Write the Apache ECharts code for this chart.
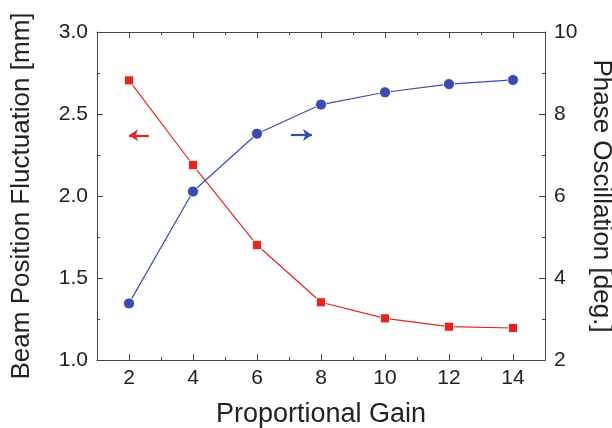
<!DOCTYPE html>
<html>
<head>
<meta charset="utf-8">
<script src="https://cdn.jsdelivr.net/npm/echarts@6/dist/echarts.min.js"></script>
<style>html,body{margin:0;padding:0;background:#fff}#c{width:612px;height:428px}</style>
</head>
<body>
<div id="c"></div>
<script>
const gains = [2, 4, 6, 8, 10, 12, 14];
const beamFluct = [2.705, 2.189, 1.701, 1.352, 1.254, 1.203, 1.195];
const phaseOsc = [3.38, 6.11, 7.52, 8.23, 8.53, 8.73, 8.83];
const xMajor = [2, 4, 6, 8, 10, 12, 14];
const xMinor = [3, 5, 7, 9, 11, 13];

const FONT = 'Liberation Sans, Arial, sans-serif';
const AX = '#444';
const RED = '#e3261f';
const BLUE = '#3c4cae';

function xAx(pos, vals, len, labels, line) {
  return {
    type: 'value', min: 1, max: 15, position: pos,
    axisLine: {show: line, onZero: false, lineStyle: {color: AX, width: 1}},
    axisTick: {show: true, inside: true, length: len, customValues: vals, lineStyle: {color: AX}},
    axisLabel: labels ? {show: true, customValues: vals, fontSize: 21, color: '#222', fontFamily: FONT, margin: 8} : {show: false},
    splitLine: {show: false},
    name: labels ? 'Proportional Gain' : '',
    nameLocation: 'middle', nameGap: 41,
    nameTextStyle: {fontSize: 27, color: '#222', fontFamily: FONT}
  };
}

const chart = echarts.init(document.getElementById('c'), null, {renderer: 'canvas'});
chart.setOption({
  animation: false,
  grid: {left: 97, right: 67, top: 32, bottom: 68, containLabel: false, outerBoundsMode: 'none'},
  xAxis: [
    xAx('bottom', xMajor, 6, true, true),
    xAx('bottom', xMinor, 3, false, false),
    xAx('top', xMajor, 6, false, true),
    xAx('top', xMinor, 3, false, false)
  ],
  yAxis: [
    {
      type: 'value', min: 1, max: 3, interval: 0.5, position: 'left',
      axisLine: {show: true, lineStyle: {color: AX}},
      axisTick: {show: true, inside: true, length: 6, lineStyle: {color: AX}},
      minorTick: {show: true, splitNumber: 2, length: 3, lineStyle: {color: AX}},
      axisLabel: {fontSize: 21, color: '#222', fontFamily: FONT, margin: 9, formatter: v => v.toFixed(1)},
      splitLine: {show: false},
      name: 'Beam Position Fluctuation [mm]', nameLocation: 'middle', nameGap: 62, nameRotate: 90,
      nameTextStyle: {fontSize: 26, color: '#222', fontFamily: FONT}
    },
    {
      type: 'value', min: 2, max: 10, interval: 2, position: 'right',
      axisLine: {show: true, lineStyle: {color: AX}},
      axisTick: {show: true, inside: true, length: 6, lineStyle: {color: AX}},
      minorTick: {show: true, splitNumber: 2, length: 3, lineStyle: {color: AX}},
      axisLabel: {fontSize: 21, color: '#222', fontFamily: FONT, margin: 9},
      splitLine: {show: false},
      name: 'Phase Oscillation [deg.]', nameLocation: 'middle', nameGap: 42, nameRotate: -90,
      nameTextStyle: {fontSize: 26, color: '#222', fontFamily: FONT}
    }
  ],
  series: [
    {
      type: 'line', xAxisIndex: 0, yAxisIndex: 0,
      data: gains.map((g, i) => [g, beamFluct[i]]),
      symbol: 'rect', symbolSize: 9,
      lineStyle: {color: RED, width: 1.2},
      itemStyle: {color: RED, borderColor: '#fff', borderWidth: 0.8},
      markLine: {
        silent: true, symbol: ['none', 'arrow'], symbolSize: 9,
        label: {show: false},
        lineStyle: {color: RED, width: 2.2, type: 'solid'},
        data: [[{coord: [2.62, 2.37]}, {coord: [2.0, 2.37]}]]
      }
    },
    {
      type: 'line', xAxisIndex: 0, yAxisIndex: 1,
      data: gains.map((g, i) => [g, phaseOsc[i]]),
      symbol: 'circle', symbolSize: 11,
      lineStyle: {color: BLUE, width: 1.2},
      itemStyle: {color: BLUE, borderColor: '#fff', borderWidth: 0.8},
      markLine: {
        silent: true, symbol: ['none', 'arrow'], symbolSize: 9,
        label: {show: false},
        lineStyle: {color: BLUE, width: 2.2, type: 'solid'},
        data: [[{coord: [7.06, 7.49]}, {coord: [7.72, 7.49]}]]
      }
    }
  ]
});
</script>
</body>
</html>
